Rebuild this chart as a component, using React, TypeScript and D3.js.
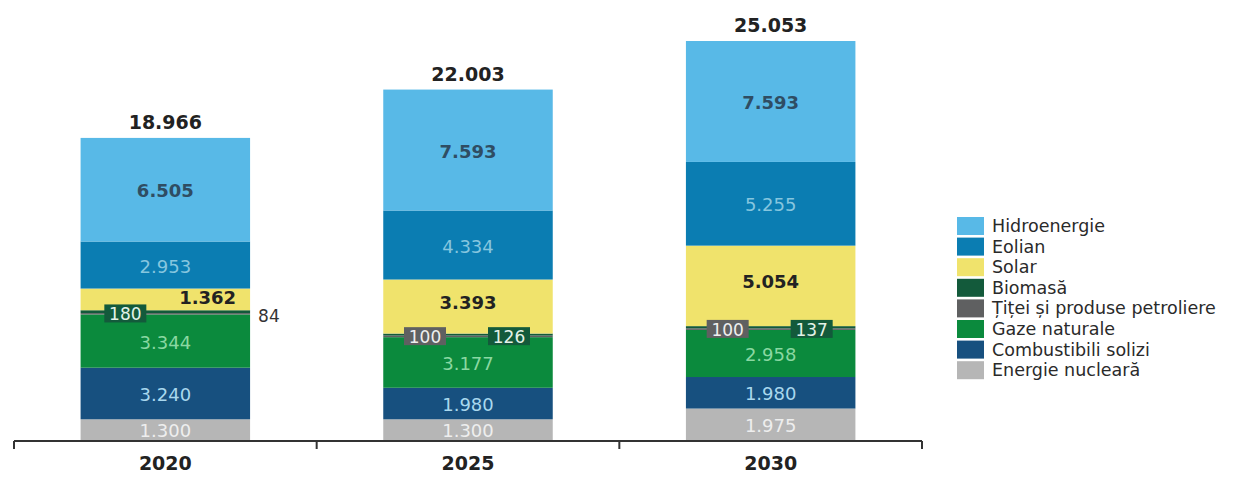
import React from "react";
import * as d3 from "d3";

const years = ["2020", "2025", "2030"];
const seriesNames = [
  "Energie nucleară",
  "Combustibili solizi",
  "Gaze naturale",
  "Țiței și produse petroliere",
  "Biomasă",
  "Solar",
  "Eolian",
  "Hidroenergie",
];
const nuclear = [1300, 1300, 1975];
const solidFuels = [3240, 1980, 1980];
const naturalGas = [3344, 3177, 2958];
const oil = [84, 100, 100];
const biomass = [180, 126, 137];
const solar = [1362, 3393, 5054];
const wind = [2953, 4334, 5255];
const hydro = [6505, 7593, 7593];
const totals = [18966, 22003, 25053];

const seriesValues = [nuclear, solidFuels, naturalGas, oil, biomass, solar, wind, hydro];
const seriesColors = ["#b6b6b6", "#17507f", "#0b8a3d", "#5f6061", "#135a3b", "#f0e36c", "#0b7db2", "#58b9e7"];
const labelColors = ["#eeeeee", "#a9d8ee", "#8ad8a2", "#eeeeee", "#d8eee0", "#222222", "#86c6df", "#2f4d63"];
const legendOrder = [7, 6, 5, 4, 3, 2, 1, 0];

const W = 1254;
const H = 477;
const FONT = "'DejaVu Sans', Verdana, sans-serif";

const fmt = d3.formatLocale({ decimal: ",", thousands: ".", grouping: [3], currency: ["", ""] }).format(",d");

export default function App() {
  const x = d3.scaleBand<string>().domain(years).range([14, 922]).paddingInner(0.44).paddingOuter(0.22);
  const y = d3.scaleLinear().domain([0, 25053]).range([440, 41]);

  const table = years.map((yr, i) => {
    const row: any = { year: yr };
    seriesNames.forEach((s, k) => (row[s] = seriesValues[k][i]));
    return row;
  });
  const stacked = d3.stack<any>().keys(seriesNames)(table);

  const bw = x.bandwidth();
  const axisY = 441;
  const tickXs = [x.range()[0], ...years.slice(1).map((yr) => (x(yr) as number) - (x.step() * x.paddingInner()) / 2), x.range()[1]];

  return (
    <div style={{ position: "absolute", left: 0, top: 0 }}>
      <svg width={W} height={H} style={{ display: "block", background: "#ffffff" }} fontFamily={FONT}>
        {stacked.map((layer, k) => (
          <g key={layer.key}>
            {layer.map((d, i) => (
              <rect
                key={i}
                x={x(years[i])}
                y={y(d[1])}
                width={bw}
                height={Math.max(0, y(d[0]) - y(d[1]))}
                fill={seriesColors[k]}
              />
            ))}
          </g>
        ))}

        {/* segment labels for large segments */}
        {stacked.map((layer, k) => {
          if (k === 3 || k === 4) return null;
          return (
            <g key={"l" + layer.key}>
              {layer.map((d, i) => {
                const cx = (x(years[i]) as number) + bw / 2;
                const cy = (y(d[0]) + y(d[1])) / 2;
                const isSolar = k === 5;
                const isHydro = k === 7;
                if (isSolar && i === 0) {
                  return (
                    <text key={i} x={(x(years[i]) as number) + bw - 14} y={cy - 2} textAnchor="end" dominantBaseline="central" fontSize={18} fontWeight="bold" fill={labelColors[k]}>
                      {fmt(d[1] - d[0])}
                    </text>
                  );
                }
                return (
                  <text
                    key={i}
                    x={cx}
                    y={cy + (isSolar ? -4 : 1)}
                    textAnchor="middle"
                    dominantBaseline="central"
                    fontSize={18}
                    fontWeight={isSolar || isHydro ? "bold" : "normal"}
                    fill={labelColors[k]}
                  >
                    {fmt(d[1] - d[0])}
                  </text>
                );
              })}
            </g>
          );
        })}

        {/* small segment badges: oil (left) and biomass (right) */}
        {years.map((yr, i) => {
          const cx = (x(yr) as number) + bw / 2;
          const by = y(stacked[2][i][1]);
          const oilVal = oil[i];
          const bioVal = biomass[i];
          const badgeW = 42;
          const badgeH = 18;
          if (i === 0) {
            return (
              <g key={"b" + yr}>
                <rect x={cx - 40 - badgeW / 2} y={by - badgeH / 2 - 1} width={badgeW} height={badgeH} fill={seriesColors[4]} />
                <text x={cx - 40} y={by} textAnchor="middle" dominantBaseline="central" fontSize={17} fill="#e3f2e8">
                  {fmt(bioVal)}
                </text>
                <text x={(x(yr) as number) + bw + 8} y={by + 2} dominantBaseline="central" fontSize={17} fill="#333333">
                  {fmt(oilVal)}
                </text>
              </g>
            );
          }
          return (
            <g key={"b" + yr}>
              <rect x={cx - 43 - badgeW / 2} y={by - badgeH / 2 - 1} width={badgeW} height={badgeH} fill={seriesColors[3]} />
              <text x={cx - 43} y={by} textAnchor="middle" dominantBaseline="central" fontSize={17} fill="#eeeeee">
                {fmt(oilVal)}
              </text>
              <rect x={cx + 41 - badgeW / 2} y={by - badgeH / 2 - 1} width={badgeW} height={badgeH} fill={seriesColors[4]} />
              <text x={cx + 41} y={by} textAnchor="middle" dominantBaseline="central" fontSize={17} fill="#e3f2e8">
                {fmt(bioVal)}
              </text>
            </g>
          );
        })}

        {/* totals */}
        {years.map((yr, i) => (
          <text key={"t" + yr} x={(x(yr) as number) + bw / 2} y={y(totals[i]) - 9} textAnchor="middle" fontSize={19} fontWeight="bold" fill="#222222">
            {fmt(totals[i])}
          </text>
        ))}

        {/* axis */}
        <line x1={x.range()[0]} x2={x.range()[1]} y1={axisY} y2={axisY} stroke="#333333" strokeWidth={2} />
        {tickXs.map((tx, i) => (
          <line key={"tk" + i} x1={tx} x2={tx} y1={axisY} y2={axisY + 8} stroke="#333333" strokeWidth={2} />
        ))}
        {years.map((yr) => (
          <text key={"y" + yr} x={(x(yr) as number) + bw / 2} y={470} textAnchor="middle" fontSize={19} fontWeight="bold" fill="#222222">
            {yr}
          </text>
        ))}

        {/* legend */}
        {legendOrder.map((k, j) => {
          const ly = 226 + j * 20.6;
          return (
            <g key={"lg" + k}>
              <rect x={957} y={ly - 9} width={27} height={18} fill={seriesColors[k]} />
              <text x={992} y={ly} dominantBaseline="central" fontSize={17.5} fill="#2a2a2a">
                {seriesNames[k]}
              </text>
            </g>
          );
        })}
      </svg>
    </div>
  );
}
